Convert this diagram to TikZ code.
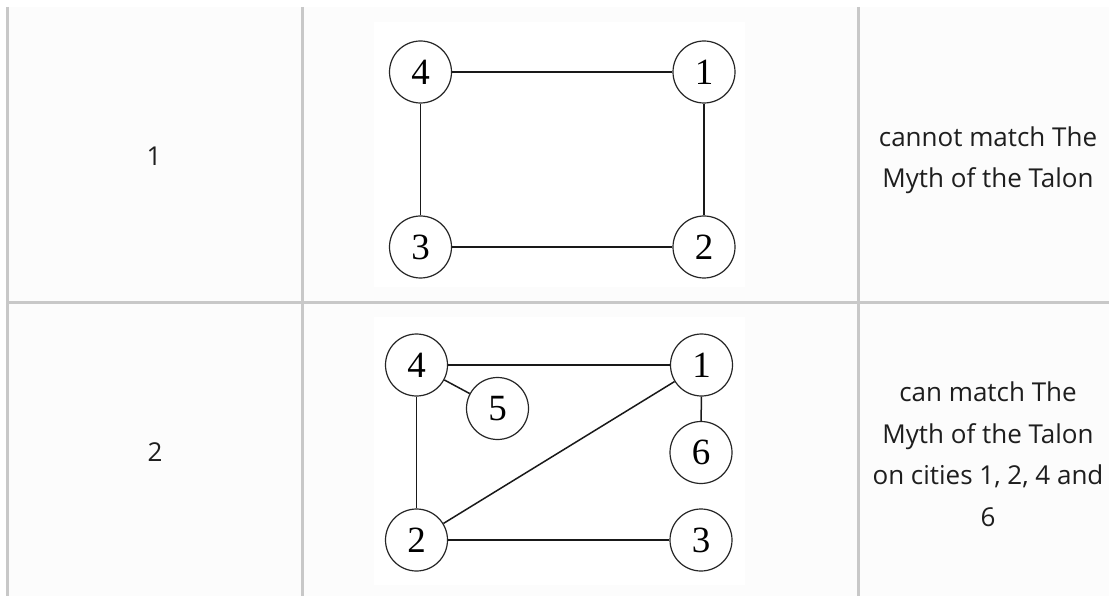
\documentclass[tikz,border=0pt]{standalone}
\usepackage{fontspec}
\setmainfont{Liberation Serif}
\newfontfamily\uifont{Open Sans}
\definecolor{gridc}{HTML}{C8C8C8}
\definecolor{cellbg}{HTML}{FCFCFC}
\definecolor{txtc}{HTML}{1E1E1E}
\tikzset{
  vtx/.style={circle, draw=black!85, line width=1.2pt, fill=white, minimum size=62pt, inner sep=0pt, font=\fontsize{37}{37}\selectfont},
  edg/.style={draw=black!90, line width=1.5pt},
  gridline/.style={draw=gridc, line width=3pt},
  celltxt/.style={font=\uifont\fontsize{26}{41.5}\selectfont, text=txtc, align=center, inner sep=0pt},
}
\begin{document}
\begin{tikzpicture}[x=1pt,y=-1pt]
\useasboundingbox (0,0) rectangle (1109,596);
\fill[white] (0,0) rectangle (1109,596);
\fill[cellbg] (7,7) rectangle (1109,596);
% image backgrounds
\fill[white] (374,22) rectangle (745,287);
\fill[white] (374,317) rectangle (745,585);
% grid
\draw[gridline] (7.5,7) -- (7.5,596);
\draw[gridline] (302.5,7) -- (302.5,596);
\draw[gridline] (858.5,7) -- (858.5,596);
\draw[gridline] (7,302.5) -- (1109,302.5);
% left column
\node[celltxt] (r1) at (154,156.5) {1};
\node[celltxt] (r2) at (155,452) {2};
% right column
\node[celltxt, anchor=base] (t1) at (988,188) {cannot match The\\Myth of the Talon};
\node[celltxt, anchor=base] (t2) at (988,526) {can match The\\Myth of the Talon\\on cities 1, 2, 4 and\\6};
% graph 1
\node[vtx] (a4) at (420.5,72) {4};
\node[vtx] (a1) at (704,72) {1};
\node[vtx] (a3) at (420.5,247) {3};
\node[vtx] (a2) at (704,247) {2};
\draw[edg] (a4) -- (a1);
\draw[edg] (a1) -- (a2);
\draw[edg] (a2) -- (a3);
\draw[edg] (a3) -- (a4);
% graph 2
\node[vtx] (b4) at (416.5,365) {4};
\node[vtx] (b1) at (701.5,365) {1};
\node[vtx] (b5) at (497.5,408.5) {5};
\node[vtx] (b6) at (701,452.5) {6};
\node[vtx] (b2) at (416.5,540) {2};
\node[vtx] (b3) at (701,540) {3};
\draw[edg] (b4) -- (b1);
\draw[edg] (b4) -- (b5);
\draw[edg] (b4) -- (b2);
\draw[edg] (b1) -- (b2);
\draw[edg] (b1) -- (b6);
\draw[edg] (b2) -- (b3);
\end{tikzpicture}
\end{document}
